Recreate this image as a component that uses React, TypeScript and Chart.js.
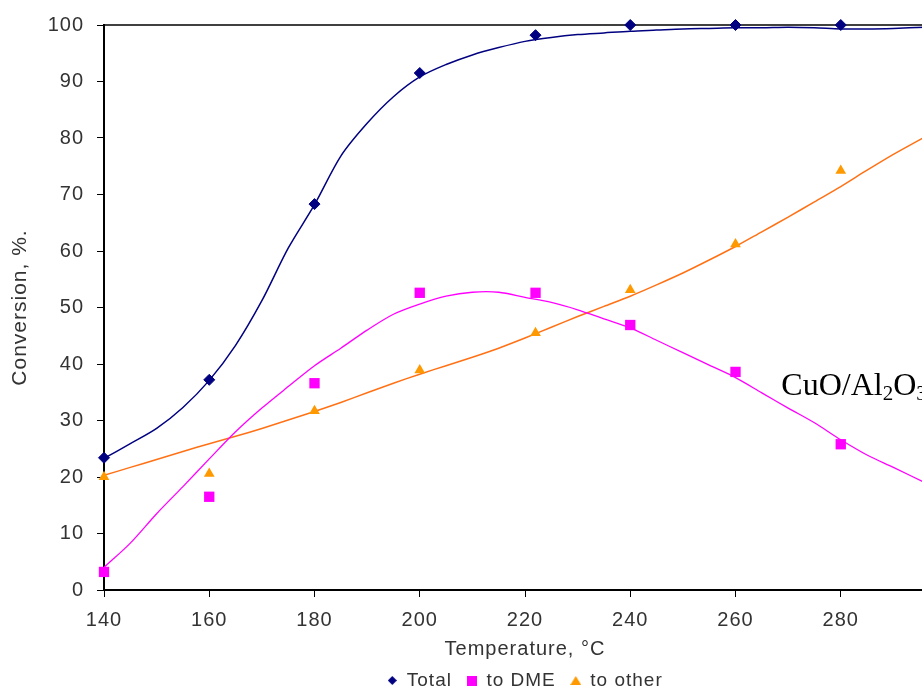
import React, { useEffect, useRef } from 'react';
import { Chart, registerables } from 'chart.js';

Chart.register(...registerables);

// ---- data ----
const seriesNames = ['Total', 'to DME', 'to other'];
const temperatures = [140, 160, 180, 200, 222, 240, 260, 280];
const totalConv = [23.4, 37.2, 68.3, 91.5, 98.2, 100, 100, 100];
const dmeConv = [3.2, 16.5, 36.6, 52.6, 52.6, 46.9, 38.6, 25.8];
const otherConv = [20.0, 20.6, 31.7, 38.9, 45.5, 53.1, 61.2, 74.2];

// trend curves
const trendT = [140, 145, 150, 155, 160, 165, 170, 175, 180, 185, 190, 195, 200, 205, 210, 215, 220, 225, 230, 235, 240, 245, 250, 255, 260, 265, 270, 275, 280, 285, 290, 296];
const totalTrend = [23.3, 25.9, 28.6, 32.3, 37.1, 43.3, 51.2, 60.5, 68.2, 76.8, 82.6, 87.3, 90.8, 93.0, 94.7, 96.0, 97.1, 97.8, 98.3, 98.6, 98.9, 99.1, 99.3, 99.4, 99.5, 99.5, 99.6, 99.5, 99.3, 99.3, 99.4, 99.6];
const dmeTrend = [4.0, 8.3, 13.5, 18.3, 23.2, 28.0, 32.2, 36.0, 39.7, 42.8, 46.0, 48.8, 50.6, 52.0, 52.7, 52.7, 51.8, 50.9, 49.6, 48.0, 46.4, 44.2, 42.0, 39.8, 37.6, 34.9, 32.2, 29.6, 26.6, 23.9, 21.7, 19.0];
const otherTrend = [20.3, 21.7, 23.1, 24.5, 25.9, 27.2, 28.6, 30.1, 31.6, 33.2, 34.9, 36.6, 38.2, 39.7, 41.2, 42.8, 44.6, 46.5, 48.4, 50.2, 52.0, 54.0, 56.1, 58.4, 60.8, 63.4, 66.0, 68.7, 71.4, 74.3, 77.1, 80.2];

const xTickValues = [140, 160, 180, 200, 220, 240, 260, 280, 300];
const yTickValues = [0, 10, 20, 30, 40, 50, 60, 70, 80, 90, 100];

const catalystLabel = [
  { text: 'CuO/Al', sub: false },
  { text: '2', sub: true },
  { text: 'O', sub: false },
  { text: '3', sub: true },
];
const catalystLabelAt = { x: 268.7, y: 34.6 };

const FONT = '"Liberation Sans", Arial, sans-serif';
const TEXT = '#333333';

function markerImage(shape: string, color: string, w: number, h: number) {
  const c = document.createElement('canvas');
  c.width = w;
  c.height = h;
  const ctx = c.getContext('2d')!;
  ctx.fillStyle = color;
  ctx.beginPath();
  if (shape === 'diamond') {
    ctx.moveTo(w / 2, 0);
    ctx.lineTo(w, h / 2);
    ctx.lineTo(w / 2, h);
    ctx.lineTo(0, h / 2);
  } else if (shape === 'triangle') {
    ctx.moveTo(w / 2, 0);
    ctx.lineTo(w, h);
    ctx.lineTo(0, h);
  } else {
    ctx.rect(0, 0, w, h);
  }
  ctx.closePath();
  ctx.fill();
  return c;
}

const spacingPlugin = {
  id: 'letterSpacing',
  beforeLayout(chart: any) {
    (chart.ctx as any).letterSpacing = '1px';
  },
  beforeDraw(chart: any) {
    (chart.ctx as any).letterSpacing = '1px';
  },
};

const framePlugin = {
  id: 'frameAndLabel',
  beforeDatasetsDraw(chart: any) {
    const { ctx, chartArea } = chart;
    ctx.save();
    ctx.strokeStyle = '#000';
    ctx.lineWidth = 1.5;
    ctx.beginPath();
    ctx.moveTo(chartArea.left, chartArea.top);
    ctx.lineTo(chartArea.right, chartArea.top);
    ctx.stroke();
    ctx.restore();
  },
  afterDatasetsDraw(chart: any) {
    const { ctx } = chart;
    const x0 = chart.scales.x.getPixelForValue(catalystLabelAt.x);
    const y0 = chart.scales.y.getPixelForValue(catalystLabelAt.y);
    ctx.save();
    (ctx as any).letterSpacing = '0px';
    ctx.fillStyle = '#000';
    ctx.textAlign = 'left';
    ctx.textBaseline = 'alphabetic';
    let x = x0;
    for (const part of catalystLabel) {
      ctx.font = part.sub ? '21px "Liberation Serif", "Times New Roman", serif' : '32px "Liberation Serif", "Times New Roman", serif';
      const y = part.sub ? y0 + 5 : y0;
      ctx.fillText(part.text, x, y);
      x += ctx.measureText(part.text).width;
    }
    ctx.restore();
  },
};

export default function App() {
  const ref = useRef<HTMLCanvasElement | null>(null);

  useEffect(() => {
    if (!ref.current) return;
    const legendImages = [
      markerImage('diamond', '#000080', 9, 9),
      markerImage('square', '#FF00FF', 10, 10),
      markerImage('triangle', '#FF9900', 11, 9),
    ];
    const pts = (xs: number[], ys: number[]) => xs.map((x, i) => ({ x, y: ys[i] }));

    const chart = new Chart(ref.current, {
      type: 'scatter',
      data: {
        datasets: [
          {
            label: seriesNames[0],
            data: pts(temperatures, totalConv),
            pointStyle: 'rectRot',
            pointRadius: 5.5,
            backgroundColor: '#000080',
            borderColor: '#000080',
            borderWidth: 1,
            showLine: false,
            clip: false,
          },
          {
            label: seriesNames[1],
            data: pts(temperatures, dmeConv),
            pointStyle: 'rect',
            pointRadius: 7.3,
            backgroundColor: '#FF00FF',
            borderColor: '#FF00FF',
            borderWidth: 0,
            showLine: false,
            clip: false,
          },
          {
            label: seriesNames[2],
            data: pts(temperatures, otherConv),
            pointStyle: 'triangle',
            pointRadius: 6.2,
            backgroundColor: '#FF9900',
            borderColor: '#FF9900',
            borderWidth: 0,
            showLine: false,
            clip: false,
          },
          {
            label: 'Total trend',
            data: pts(trendT, totalTrend),
            showLine: true,
            pointRadius: 0,
            borderColor: '#000080',
            borderWidth: 1.5,
            tension: 0.3,
          },
          {
            label: 'DME trend',
            data: pts(trendT, dmeTrend),
            showLine: true,
            pointRadius: 0,
            borderColor: '#FF00FF',
            borderWidth: 1.3,
            tension: 0.3,
          },
          {
            label: 'other trend',
            data: pts(trendT, otherTrend),
            showLine: true,
            pointRadius: 0,
            borderColor: '#FF7115',
            borderWidth: 1.5,
            tension: 0.3,
          },
        ],
      },
      options: {
        animation: false,
        responsive: false,
        devicePixelRatio: 1,
        events: [],
        layout: { padding: { left: 0, right: 40, top: 22, bottom: 0 } },
        scales: {
          x: {
            type: 'linear',
            min: 140,
            max: 300,
            afterBuildTicks: (s: any) => {
              s.ticks = xTickValues.map((value) => ({ value }));
            },
            afterFit: (s: any) => {
              s.height = 66;
            },
            grid: { drawOnChartArea: false, drawTicks: true, tickLength: 7, color: '#000', lineWidth: 1 },
            border: { display: true, color: '#000', width: 2 },
            ticks: { font: { size: 20, family: FONT }, color: TEXT, padding: 11, maxRotation: 0, autoSkip: false },
            title: {
              display: true,
              text: 'Temperature, °C',
              font: { size: 20, family: FONT },
              color: TEXT,
              padding: { top: 0, bottom: -5 },
            },
          },
          y: {
            type: 'linear',
            min: 0,
            max: 100,
            afterBuildTicks: (s: any) => {
              s.ticks = yTickValues.map((value) => ({ value }));
            },
            afterFit: (s: any) => {
              s.width = 104;
            },
            grid: { drawOnChartArea: false, drawTicks: true, tickLength: 7, color: '#000', lineWidth: 1 },
            border: { display: true, color: '#000', width: 2 },
            ticks: { font: { size: 20, family: FONT }, color: TEXT, padding: 13, autoSkip: false },
            title: {
              display: true,
              text: 'Conversion, %.',
              font: { size: 21, family: FONT },
              color: TEXT,
              padding: { top: 8, bottom: 0 },
            },
          },
        },
        plugins: {
          tooltip: { enabled: false },
          legend: {
            position: 'bottom',
            fullSize: false,
            labels: {
              usePointStyle: true,
              boxWidth: 10,
              boxHeight: 10,
              padding: 15,
              color: TEXT,
              font: { size: 19, family: FONT },
              filter: (item: any) => item.datasetIndex < 3,
              generateLabels: (c: any) => {
                const base = Chart.defaults.plugins.legend.labels.generateLabels(c);
                return base.map((item: any) =>
                  item.datasetIndex < 3 ? { ...item, pointStyle: legendImages[item.datasetIndex] } : item
                );
              },
            },
          },
        },
      } as any,
      plugins: [spacingPlugin, framePlugin],
    });
    return () => chart.destroy();
  }, []);

  return (
    <div
      style={{
        position: 'fixed',
        left: 0,
        top: 0,
        width: 922,
        height: 690,
        overflow: 'hidden',
        background: '#fff',
      }}
    >
      <canvas ref={ref} width={986} height={700} style={{ display: 'block' }} />
    </div>
  );
}
